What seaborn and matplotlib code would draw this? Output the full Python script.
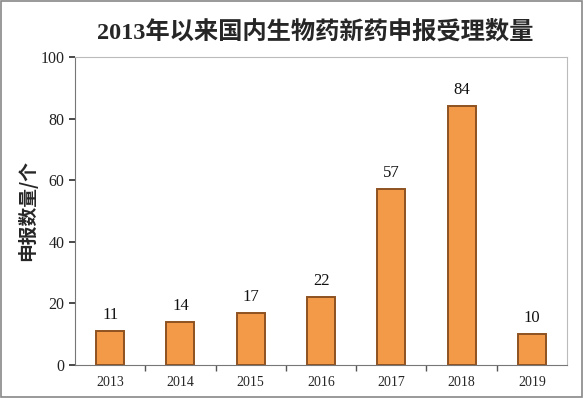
import matplotlib
matplotlib.use("Agg")
import matplotlib.pyplot as plt
import seaborn as sns
import pandas as pd
from matplotlib.patches import Rectangle

years = ["2013", "2014", "2015", "2016", "2017", "2018", "2019"]
counts = [11, 14, 17, 22, 57, 84, 10]
title = "2013年以来国内生物药新药申报受理数量"
ylabel = "申报数量/个"

sns.set_theme(style="white")
plt.rcParams["font.family"] = ["Liberation Serif", "Noto Sans CJK SC", "DejaVu Sans"]

df = pd.DataFrame({"year": years, "count": counts})

fig = plt.figure(figsize=(5.84, 3.98), dpi=100)
fig.patches.append(Rectangle((0.002, 0.003), 0.995, 0.994, transform=fig.transFigure,
                             fill=False, edgecolor="#888888", linewidth=1.2))
ax = fig.add_axes([0.1284, 0.0829, 0.971 - 0.1284, 0.857 - 0.0829])

sns.barplot(data=df, x="year", y="count", ax=ax, color="#F39A48", width=0.4,
            edgecolor="#8E5220", linewidth=1.4, saturation=1)

for i, v in enumerate(counts):
    ax.text(i, v + 2.6, str(v), ha="center", va="bottom", fontsize=12,
            family=["Liberation Serif"], color="#111111")

ax.set_ylim(0, 100)
ax.set_xlim(-0.5, len(years) - 0.5)
ax.set_yticks(range(0, 101, 20))
ax.set_xlabel("")
ax.set_ylabel(ylabel, fontsize=13.5, fontweight="bold", family=["Noto Sans CJK SC"])
ax.yaxis.set_label_coords(-0.076, 0.5)
ax.tick_params(axis="y", labelsize=11.5, length=4, direction="out", left=True, colors="#333333")
ax.tick_params(axis="x", labelsize=10, length=0, pad=8)
ax.set_xticks([i + 0.5 for i in range(len(years) - 1)], minor=True)
ax.tick_params(axis="x", which="minor", length=4, direction="out", bottom=True, color="#555555")
for lab in ax.get_yticklabels():
    lab.set_color("#222222")
for s in ax.spines.values():
    s.set_color("#BBBBBB")
    s.set_linewidth(0.8)
ax.spines["left"].set_color("#777777")
ax.spines["bottom"].set_color("#777777")

fig.text(0.54, 0.918, title, ha="center", va="center", fontsize=17.5, fontweight="bold",
         family=["Liberation Serif", "Noto Sans CJK SC"])

fig.savefig("out.png", dpi=100)
